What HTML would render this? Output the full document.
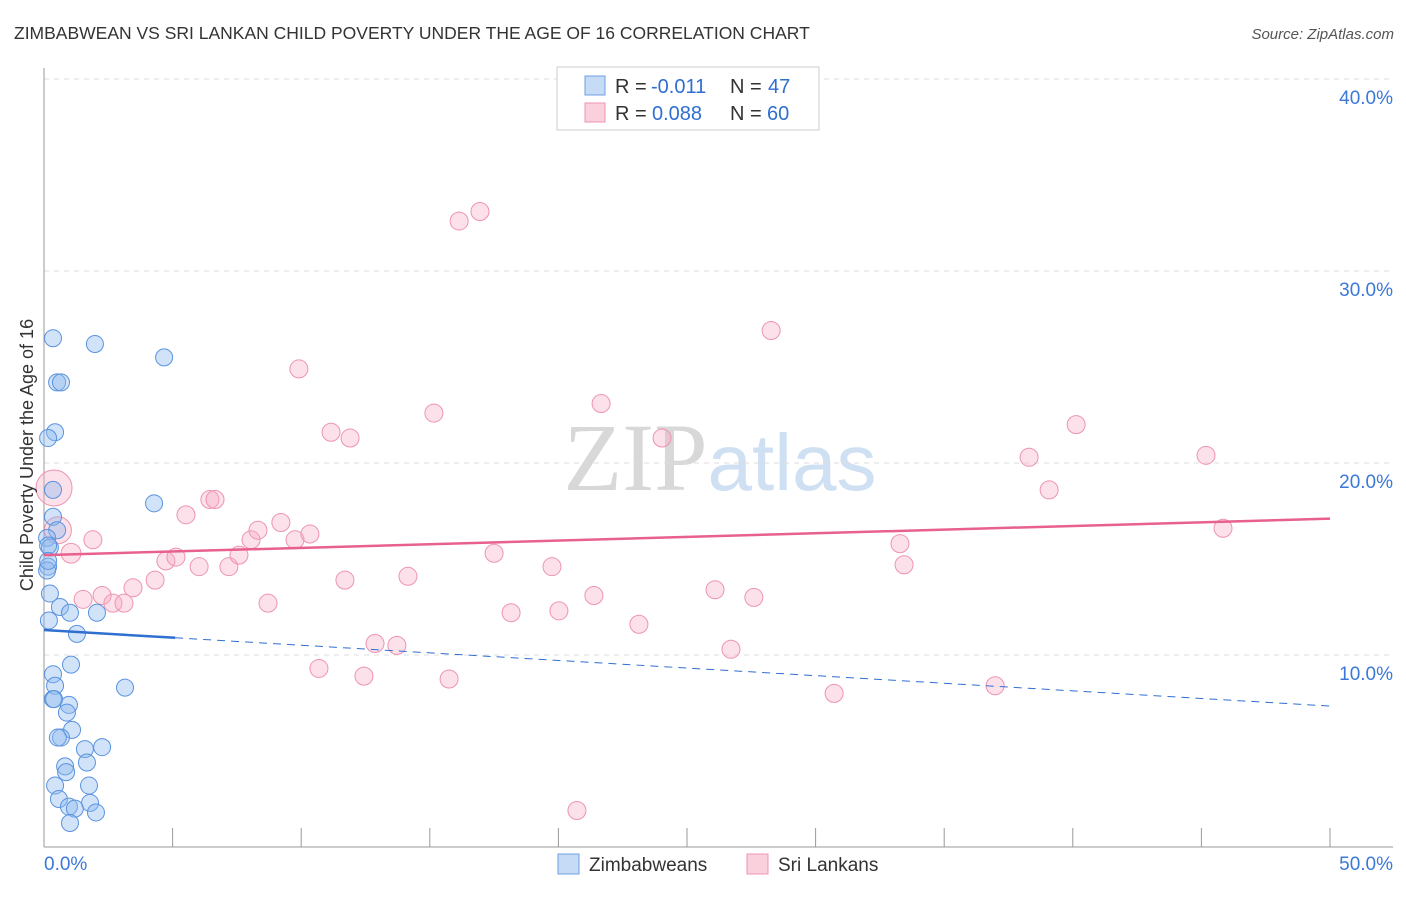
<!DOCTYPE html>
<html><head><meta charset="utf-8"><style>
body{margin:0;background:#fff;font-family:"Liberation Sans",sans-serif}
svg text{font-family:"Liberation Sans",sans-serif}
</style></head><body>
<svg id="chart" width="1406" height="892" viewBox="0 0 1406 892">
<text x="14" y="39" font-size="17.5" fill="#333">ZIMBABWEAN VS SRI LANKAN CHILD POVERTY UNDER THE AGE OF 16 CORRELATION CHART</text>
<text x="1394" y="39" font-size="15" fill="#555" text-anchor="end" font-style="italic">Source: ZipAtlas.com</text>
<text x="720" y="490" font-size="96" text-anchor="middle"><tspan fill="#d8d8d8" font-family="Liberation Serif">ZIP</tspan><tspan fill="#cfe0f3" font-size="80">atlas</tspan></text>
<g id="grid"></g><g id="axes"></g><g id="marks"></g>
<text transform="translate(33,455) rotate(-90)" font-size="18" fill="#333" text-anchor="middle">Child Poverty Under the Age of 16</text>
<g>
<rect x="557" y="67" width="262" height="63" fill="#fff" stroke="#ccc"/>
<rect x="585" y="76" width="20" height="19" fill="#c5dbf6" stroke="#6fa1e2"/>
<text x="615" y="93" font-size="20" fill="#333">R =</text>
<text x="651" y="93" font-size="20" fill="#2f6fd0">-0.011</text>
<text x="730" y="93" font-size="20" fill="#333">N =</text>
<text x="768" y="93" font-size="20" fill="#2f6fd0">47</text>
<rect x="585" y="103" width="20" height="19" fill="#fbd0dd" stroke="#ee94b0"/>
<text x="615" y="120" font-size="20" fill="#333">R =</text>
<text x="652" y="120" font-size="20" fill="#2f6fd0">0.088</text>
<text x="730" y="120" font-size="20" fill="#333">N =</text>
<text x="767" y="120" font-size="20" fill="#2f6fd0">60</text>
</g>
<g>
<rect x="558" y="854" width="21" height="20" fill="#c5dbf6" stroke="#6fa1e2"/>
<text x="589" y="871" font-size="19" fill="#333">Zimbabweans</text>
<rect x="747" y="854" width="21" height="20" fill="#fbd0dd" stroke="#ee94b0"/>
<text x="778" y="871" font-size="19" fill="#333">Sri Lankans</text>
</g>
</svg>
<script>
const yTicks=[10,20,30,40];
const yTickLabels=["10.0%","20.0%","30.0%","40.0%"];
const xTickVals=[0,5,10,15,20,25,30,35,40,45,50];
const xEndLabels=["0.0%","50.0%"];
const blueX=[0.35,1.98,4.67,0.51,0.66,0.43,0.16,0.35,4.28,0.35,0.51,0.12,0.23,0.16,0.12,0.23,0.19,0.62,1.01,2.06,1.28,1.05,0.35,0.43,3.15,0.35,0.97,0.89,1.09,0.66,0.54,1.59,2.26,1.67,0.82,0.86,0.43,1.75,0.58,0.97,1.79,1.2,2.02,1.01,0.16,0.16,0.39];
const blueY=[26.5,26.2,25.5,24.2,24.2,21.6,21.3,18.6,17.9,17.2,16.5,16.1,15.6,14.6,14.4,13.2,11.8,12.5,12.2,12.2,11.1,9.5,9.0,8.4,8.3,7.7,7.4,7.0,6.1,5.7,5.7,5.1,5.2,4.4,4.2,3.9,3.2,3.2,2.5,2.1,2.3,2.0,1.8,1.25,15.7,14.9,7.7];
const pinkX=[0.39,0.54,1.05,1.9,1.52,2.26,2.68,3.11,3.46,4.32,4.74,5.13,5.52,6.03,6.45,6.65,7.19,7.58,8.05,8.32,8.71,9.21,9.76,10.34,9.91,10.69,11.16,11.7,11.9,12.44,12.87,13.72,14.15,15.16,15.75,16.14,16.95,17.5,18.16,19.75,20.02,20.72,21.38,21.66,23.13,24.03,26.09,26.71,27.6,28.27,30.72,33.28,33.44,36.98,38.3,39.08,40.13,45.18,45.84];
const pinkY=[18.7,16.5,15.3,16.0,12.9,13.1,12.7,12.7,13.5,13.9,14.9,15.1,17.3,14.6,18.1,18.1,14.6,15.2,16.0,16.5,12.7,16.9,16.0,16.3,24.9,9.3,21.6,13.9,21.3,8.9,10.6,10.5,14.1,22.6,8.75,32.6,33.1,15.3,12.2,14.6,12.3,1.9,13.1,23.1,11.6,21.3,13.4,10.3,13.0,26.9,8.0,15.8,14.7,8.4,20.3,18.6,22.0,20.4,16.6];
const pinkSize=[2,1.5,1.1];
const blueTrend=[11.3,7.34];
const pinkTrend=[15.2,17.1];
const NS="http://www.w3.org/2000/svg";
const X0=44,X1=1330,Y0=847,PPY=19.2;
const sx=v=>X0+(v/50)*(X1-X0);
const sy=v=>Y0-v*PPY;
function mk(tag,attrs,parent){const e=document.createElementNS(NS,tag);for(const k in attrs)e.setAttribute(k,attrs[k]);parent.appendChild(e);return e;}
const grid=document.getElementById('grid'),axes=document.getElementById('axes'),marks=document.getElementById('marks');
yTicks.forEach((t,i)=>{
 const l=mk('line',{x1:X0,x2:1393,y1:sy(t),y2:sy(t),stroke:'#ddd','stroke-dasharray':'5,5'},grid);
 
 
 const tx=mk('text',{x:1393,y:sy(t)+25,'font-size':19,fill:'#3b78d8','text-anchor':'end'},axes);
 tx.textContent=yTickLabels[i];
 
 
});
const ax=mk('line',{x1:X0,x2:X0,y1:68,y2:Y0,stroke:'#999'},axes);


const bx=mk('line',{x1:X0,x2:1393,y1:Y0,y2:Y0,stroke:'#999'},axes);


xTickVals.forEach(v=>{
 const t=mk('line',{x1:sx(v),x2:sx(v),y1:828,y2:Y0,stroke:'#999'},axes);
 
 
});
[[0,'start',xEndLabels[0]],[50,'end',xEndLabels[1]]].forEach(([v,a,s])=>{
 const t=mk('text',{x:v===0?sx(v):1393,y:870,'font-size':19,fill:'#3b78d8','text-anchor':a},axes);
 t.textContent=s;
 
 
});
pinkX.forEach((x,i)=>{
 const r=9*(pinkSize[i]||1);
 const c=mk('circle',{cx:sx(x),cy:sy(pinkY[i]),r:r,fill:'rgba(247,170,195,0.35)',stroke:'#ee94b0','stroke-width':1},marks);
 
 
});
blueX.forEach((x,i)=>{
 const c=mk('circle',{cx:sx(x),cy:sy(blueY[i]),r:8.5,fill:'rgba(140,185,240,0.4)',stroke:'#5b93df','stroke-width':1},marks);
 
 
});
const by=v=>blueTrend[0]+(blueTrend[1]-blueTrend[0])*v/50;
const bs=mk('line',{x1:sx(0),y1:sy(by(0)),x2:sx(5.1),y2:sy(by(5.1)),stroke:'#2f6fd0','stroke-width':2.5},marks);


const bd=mk('line',{x1:sx(5.1),y1:sy(by(5.1)),x2:sx(50),y2:sy(by(50)),stroke:'#2f6fd0','stroke-width':1,'stroke-dasharray':'8,6'},marks);


const pl=mk('line',{x1:sx(0),y1:sy(pinkTrend[0]),x2:sx(50),y2:sy(pinkTrend[1]),stroke:'#e8608c','stroke-width':2.5},marks);


</script>
</body></html>
